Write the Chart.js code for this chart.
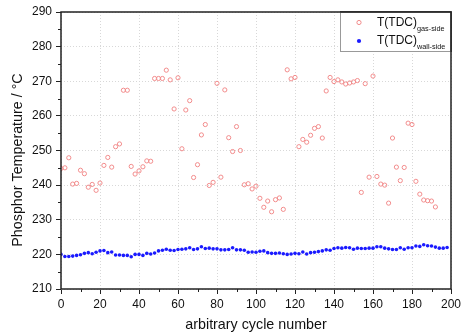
<!DOCTYPE html>
<html><head><meta charset="utf-8">
<script src="https://cdn.jsdelivr.net/npm/chart.js@4/dist/chart.umd.min.js"></script>
<style>html,body{margin:0;padding:0;background:#fff}#wrap{width:465px;height:335px}</style>
</head><body><div id="wrap"><canvas id="c" width="465" height="335"></canvas></div>
<script>
const gasCycles = [0,2,4,6,8,10,12,14,16,18,20,22,24,26,28,30,32,34,36,38,40,42,44,46,48,50,52,54,56,58,60,62,64,66,68,70,72,74,76,78,80,82,84,86,88,90,92,94,96,98,100,102,104,106,108,110,112,114,116,118,120,122,124,126,128,130,132,134,136,138,140,142,144,146,148,150,152,154,156,158,160,162,164,166,168,170,172,174,176,178,180,182,184,186,188,190,192];
const gasTemps = [244.8,245.0,247.9,240.3,240.5,244.3,243.3,239.4,240.2,238.5,240.6,245.7,248.0,245.2,251.1,251.9,267.4,267.4,245.4,243.2,244.1,245.3,247.0,246.9,270.8,270.8,270.8,273.2,270.4,262.0,271.0,250.5,261.7,264.4,242.2,245.9,254.5,257.5,239.9,240.8,269.4,242.3,267.5,253.7,249.7,256.9,250.0,240.1,240.4,238.9,239.7,236.2,233.6,235.4,232.3,235.8,236.3,233.0,273.3,270.7,271.1,251.1,253.2,252.4,254.4,256.4,256.9,253.6,267.2,271.1,269.9,270.4,269.8,269.2,269.5,269.8,270.2,237.9,269.3,242.3,271.5,242.5,240.3,240.0,234.8,253.6,245.2,241.3,245.1,257.9,257.5,241.1,237.4,235.7,235.5,235.4,233.7];
const wallCycles = [0,2,4,6,8,10,12,14,16,18,20,22,24,26,28,30,32,34,36,38,40,42,44,46,48,50,52,54,56,58,60,62,64,66,68,70,72,74,76,78,80,82,84,86,88,90,92,94,96,98,100,102,104,106,108,110,112,114,116,118,120,122,124,126,128,130,132,134,136,138,140,142,144,146,148,150,152,154,156,158,160,162,164,166,168,170,172,174,176,178,180,182,184,186,188,190,192,194,196,198];
const wallTemps = [220.0,219.4,219.4,219.5,219.7,219.9,220.3,220.5,220.2,220.6,221.0,221.1,220.5,220.7,219.8,219.8,219.7,219.7,219.3,220.0,220.0,219.7,220.3,220.1,220.4,221.0,221.2,221.5,221.2,221.1,221.4,221.5,221.6,221.9,221.4,221.6,222.2,221.7,221.8,221.6,221.6,221.3,221.3,221.4,221.9,221.3,221.3,221.2,220.6,220.7,220.6,220.9,221.0,220.5,220.3,220.3,220.4,220.2,220.0,220.1,220.3,220.2,220.7,220.1,220.5,220.6,220.8,221.0,221.3,221.2,221.7,221.9,221.8,222.0,221.9,221.5,221.8,221.7,221.7,221.8,221.8,222.2,222.2,221.8,221.6,221.4,221.4,221.9,221.5,221.9,221.9,222.4,222.3,222.8,222.5,222.4,222.1,221.8,221.8,222.0];
const seriesNames = ['T(TDC)', 'T(TDC)'];
const seriesSubs = ['gas-side', 'wall-side'];
const xTitle = 'arbitrary cycle number';
const yTitle = 'Phosphor Temperature / \u00B0C';

const gasColor = '#f28c8c';
const wallColor = '#1a1aff';
const FONT = 'Arial, "Liberation Sans", sans-serif';

const decor = {
  id: 'decor',
  afterDraw(chart) {
    const ctx = chart.ctx, a = chart.chartArea;
    const xs = chart.scales.x, ys = chart.scales.y;
    ctx.save();
    // frame
    ctx.strokeStyle = '#222'; ctx.lineWidth = 1.5;
    ctx.strokeRect(a.left, a.top, a.right - a.left, a.bottom - a.top);
    // minor ticks
    ctx.lineWidth = 1;
    ctx.beginPath();
    for (let v = 215; v < 290; v += 10) {
      const y = Math.round(ys.getPixelForValue(v)) + 0.5;
      ctx.moveTo(a.left, y); ctx.lineTo(a.left - 3, y);
    }
    for (let v = 10; v < 200; v += 20) {
      const x = Math.round(xs.getPixelForValue(v)) + 0.5;
      ctx.moveTo(x, a.bottom); ctx.lineTo(x, a.bottom + 3);
    }
    ctx.stroke();
    // titles
    ctx.fillStyle = '#111';
    ctx.font = '14.3px ' + FONT;
    ctx.textAlign = 'center'; ctx.textBaseline = 'middle';
    ctx.fillText(xTitle, (a.left + a.right) / 2, 325);
    ctx.translate(18, 160);
    ctx.rotate(-Math.PI / 2);
    ctx.fillText(yTitle, 0, 0);
    ctx.restore();
    // legend
    ctx.save();
    const lx = 340, ly = a.top, lw = a.right - lx, lh = 40;
    ctx.fillStyle = '#fff';
    ctx.fillRect(lx, ly, lw, lh);
    ctx.strokeStyle = '#999'; ctx.lineWidth = 1;
    ctx.strokeRect(lx + 0.5, ly + 0.5, lw - 1, lh - 1);
    ctx.strokeStyle = '#222'; ctx.lineWidth = 1.5;
    ctx.beginPath(); ctx.moveTo(lx, a.top); ctx.lineTo(a.right, a.top); ctx.lineTo(a.right, ly + lh); ctx.stroke();
    const rows = [ly + 10.5, ly + 29];
    for (let i = 0; i < 2; i++) {
      const cy = rows[i];
      ctx.beginPath();
      ctx.arc(359, cy, 2.1, 0, Math.PI * 2);
      if (i === 0) { ctx.strokeStyle = gasColor; ctx.lineWidth = 1; ctx.stroke(); }
      else { ctx.fillStyle = wallColor; ctx.fill(); }
      ctx.fillStyle = '#111';
      ctx.textAlign = 'left'; ctx.textBaseline = 'middle';
      ctx.font = '12px ' + FONT;
      ctx.fillText(seriesNames[i], 377, cy);
      const w = ctx.measureText(seriesNames[i]).width;
      ctx.font = '7.3px ' + FONT;
      ctx.fillText(seriesSubs[i], 377 + w, cy + 6);
    }
    ctx.restore();
  }
};

new Chart(document.getElementById('c'), {
  type: 'scatter',
  data: {
    datasets: [
      { label: seriesNames[0] + seriesSubs[0],
        data: gasCycles.map((x, i) => ({ x, y: gasTemps[i] })),
        pointStyle: 'circle', pointRadius: 2.1, pointBorderWidth: 1,
        borderColor: gasColor, backgroundColor: 'rgba(0,0,0,0)', showLine: false },
      { label: seriesNames[1] + seriesSubs[1],
        data: wallCycles.map((x, i) => ({ x, y: wallTemps[i] })),
        pointStyle: 'circle', pointRadius: 1.8, pointBorderWidth: 0,
        borderColor: wallColor, backgroundColor: wallColor, showLine: false }
    ]
  },
  options: {
    responsive: false, animation: false, devicePixelRatio: 1,
    layout: { padding: { left: 0, right: 14, top: 12, bottom: 0 } },
    plugins: { legend: { display: false }, tooltip: { enabled: false } },
    scales: {
      x: {
        type: 'linear', min: 0, max: 200,
        afterFit(s) { s.height = 46; },
        ticks: { stepSize: 20, color: '#111', font: { size: 12, family: FONT }, padding: 3, maxRotation: 0 },
        grid: { color: '#d8d8d8', tickColor: '#222', tickLength: 5, lineWidth: 1 },
        border: { display: false, dash: [1, 2] }
      },
      y: {
        min: 210, max: 290,
        afterFit(s) { s.width = 61; },
        ticks: { stepSize: 10, color: '#111', font: { size: 12, family: FONT }, padding: 4 },
        grid: { color: '#d8d8d8', tickColor: '#222', tickLength: 5, lineWidth: 1 },
        border: { display: false, dash: [1, 2] }
      }
    }
  },
  plugins: [decor]
});
</script>
</body></html>
